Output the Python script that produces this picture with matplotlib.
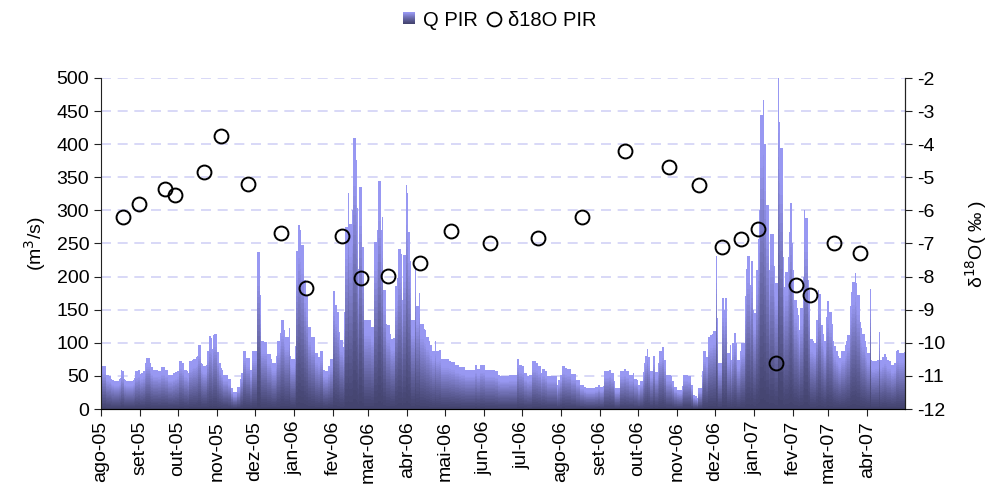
import numpy as np
import pandas as pd
import matplotlib
matplotlib.use('Agg')
import matplotlib.pyplot as plt
from matplotlib.patches import Rectangle
from matplotlib.legend_handler import HandlerBase
from matplotlib.lines import Line2D

plt.rcParams['font.family'] = ['Liberation Sans', 'DejaVu Sans']
plt.rcParams['axes.unicode_minus'] = False

# ---------------- data ----------------
month_labels = ['ago-05', 'set-05', 'out-05', 'nov-05', 'dez-05', 'jan-06', 'fev-06',
                'mar-06', 'abr-06', 'mai-06', 'jun-06', 'jul-06', 'ago-06', 'set-06',
                'out-06', 'nov-06', 'dez-06', 'jan-07', 'fev-07', 'mar-07', 'abr-07']

# daily discharge Q PIR (m3/s), one list per month
q_aug05 = [65,65,65,65,52,51,50,50,46,44,43,43,43,43,45,47,59,58,45,44,43,43,43,43,43,44,47,58,57,59,59]
q_sep05 = [53,55,58,58,70,77,77,77,70,63,59,59,59,59,58,58,58,63,63,63,59,59,52,52,52,51,54,54,56,58]
q_oct05 = [58,73,73,69,69,59,59,57,54,72,72,74,76,76,78,80,96,96,70,68,65,65,66,88,88,110,108,90,112,114,114]
q_nov05 = [86,86,69,62,59,51,51,51,51,45,45,31,31,25,25,25,33,33,45,55,55,88,88,77,77,77,59,59,88,88]
q_dec05 = [88,88,237,237,172,102,102,101,101,101,83,83,83,75,69,69,69,80,103,103,115,134,134,119,109,109,109,123,80,75,75]
q_jan06 = [75,95,238,278,278,270,248,248,195,195,170,124,124,124,109,109,109,84,84,79,79,88,88,59,59,58,58,65,65,75,75]
q_feb06 = [178,178,157,146,146,117,104,104,94,147,275,275,326,280,280,300,410,410,376,303,212,336,336,245,245,134,134,134]
q_mar06 = [135,135,124,124,124,253,253,270,345,345,270,290,180,180,128,127,127,114,106,106,107,186,186,198,242,242,234,165,233,233,338]
q_apr06 = [326,268,223,135,135,134,216,155,155,175,129,128,128,121,120,109,109,103,97,97,88,88,102,87,87,89,89,75,75,75]
q_may06 = [75,75,75,73,73,71,71,71,67,67,67,64,64,63,63,63,59,59,59,59,59,59,59,59,67,60,60,60,67,67,66]
q_jun06 = [66,59,59,59,59,59,59,59,59,57,57,51,51,50,50,50,50,50,50,50,51,51,51,51,51,51,75,75,67,67]
q_jul06 = [65,65,54,54,50,50,51,51,72,72,72,69,69,65,65,55,61,61,57,57,50,50,50,50,50,50,50,50,36,44,52]
q_aug06 = [52,65,65,62,62,61,61,61,53,53,53,53,44,44,44,36,36,36,33,33,31,31,31,31,31,31,31,33,33,37,37]
q_sep06 = [33,33,35,57,57,57,57,59,59,55,55,42,31,31,31,32,58,58,58,61,61,57,57,51,51,51,55,46,46,44]
q_oct06 = [36,36,43,43,56,69,80,90,79,79,57,57,80,80,56,56,69,87,87,93,93,74,51,51,51,51,50,43,43,33,33]
q_nov06 = [29,29,28,28,34,51,51,51,51,50,50,36,36,21,19,19,16,31,31,31,58,87,87,78,78,109,112,112,113,118]
q_dec06 = [118,231,137,69,69,69,167,150,167,167,84,84,97,74,100,115,115,99,74,74,87,99,100,100,170,212,231,231,187,224,150]
q_jan07 = [145,145,210,257,300,444,444,467,401,401,308,308,210,265,265,265,216,190,190,507,434,394,394,230,185,207,207,230,267,311,250]
q_feb07 = [210,165,165,152,142,119,152,152,200,301,288,288,195,180,105,105,102,100,135,135,180,174,127,127,114,102,139,163]
q_mar07 = [163,146,146,129,103,95,87,87,80,77,87,88,88,97,102,112,112,155,177,192,192,206,190,172,172,132,122,114,114,102,94]
q_apr07 = [84,84,182,74,72,72,73,73,74,117,74,74,78,83,83,79,74,73,73,66,67,70,70,87,89,85,84,84,85,86]

q_months = [q_aug05, q_sep05, q_oct05, q_nov05, q_dec05, q_jan06, q_feb06, q_mar06,
            q_apr06, q_may06, q_jun06, q_jul06, q_aug06, q_sep06, q_oct06, q_nov06,
            q_dec06, q_jan07, q_feb07, q_mar07, q_apr07]

# isotope samples
d18o_dates = ['2005-08-18', '2005-08-31', '2005-09-20', '2005-09-28', '2005-10-21',
              '2005-11-04', '2005-11-25', '2005-12-21', '2006-01-10', '2006-02-08',
              '2006-02-23', '2006-03-16', '2006-04-11', '2006-05-05', '2006-06-05',
              '2006-07-13', '2006-08-17', '2006-09-20', '2006-10-25', '2006-11-18',
              '2006-12-06', '2006-12-21', '2007-01-04', '2007-01-18', '2007-02-03',
              '2007-02-14', '2007-03-05', '2007-03-26']
d18o_vals = [-6.21, -5.81, -5.34, -5.54, -4.83, -3.75, -5.19, -6.67, -8.35, -6.76,
             -8.05, -7.99, -7.59, -6.61, -6.97, -6.82, -6.21, -4.21, -4.68, -5.24,
             -7.12, -6.87, -6.57, -10.60, -8.25, -8.57, -6.97, -7.28]

# ---------------- build positions ----------------
start = pd.Timestamp('2005-08-01')
month_starts = pd.date_range('2005-08-01', periods=len(month_labels) + 1, freq='MS')
ms_days = np.array([(m - start).days for m in month_starts])

xs, qs = [], []
for i, ql in enumerate(q_months):
    xs.extend(ms_days[i] + np.arange(len(ql)))
    qs.extend(ql)
xs = np.array(xs, dtype=float)
qs = np.array(qs, dtype=float)

xd = np.array([(pd.Timestamp(d) - start).days for d in d18o_dates]) + 0.5

# ---------------- figure ----------------
fig = plt.figure(figsize=(9.93, 4.94), dpi=100)
ax = fig.add_axes([101/993, 1 - 409/494, (905 - 101)/993, (409 - 78)/494])

light = np.array([152, 152, 242]) / 255.0
dark = np.array([66, 66, 108]) / 255.0

def grad_color(f):
    t = min(1.0, max(0.0, f / 0.85)) ** 1.15
    return tuple(dark + (light - dark) * t)

N = 28
for k in range(N):
    f = 1.0 - k / N
    c = grad_color(f - 0.5 / N)
    ax.bar(xs, qs * f, width=1.0, align='edge', color=c, linewidth=0,
           antialiased=False, zorder=2)

ax.set_xlim(0, ms_days[-1])
ax.set_ylim(0, 500)
ax.set_yticks(np.arange(0, 501, 50))
ax.set_xticks(ms_days[:-1])
ax.set_xticklabels(month_labels, rotation=90)
ax.yaxis.grid(True, color='#d2d2f6', linestyle=(0, (6, 4)), linewidth=1.2, zorder=0)
ax.set_axisbelow(True)
ax.spines['top'].set_visible(False)
for s in ['left', 'bottom', 'right']:
    ax.spines[s].set_color('#222222')
ax.tick_params(axis='both', labelsize=14, direction='out', length=5, color='#222222')
ax.set_ylabel('(m$^3$/s)', fontsize=14, labelpad=6)

ax2 = ax.twinx()
ax2.plot(xd, d18o_vals, 'o', mfc='none', mec='black', ms=10, mew=1.4, zorder=5,
         clip_on=False)
ax2.set_ylim(-12, -2)
ax2.set_yticks(np.arange(-12, -1, 1))
ax2.spines['top'].set_visible(False)
ax2.spines['left'].set_visible(False)
ax2.spines['right'].set_color('#222222')
ax2.tick_params(axis='y', labelsize=14, direction='out', length=5, color='#222222')
ax2.set_ylabel('δ$^{18}$O( ‰ )', fontsize=14, labelpad=13)


class GradHandler(HandlerBase):
    def create_artists(self, legend, orig_handle, xdescent, ydescent, width,
                       height, fontsize, trans):
        arts = []
        M = 12
        side = min(width, height * 1.1)
        x0 = -xdescent + (width - side) / 2
        y0 = -ydescent + (height - side) / 2
        for j in range(M):
            fj = (j + 0.5) / M
            arts.append(Rectangle((x0, y0 + side * j / M), side, side / M + 0.2,
                                  facecolor=grad_color(fj * 0.9), edgecolor='none',
                                  transform=trans))
        return arts


q_handle = Rectangle((0, 0), 1, 1)
o_handle = Line2D([], [], marker='o', ls='none', mfc='none', mec='black', ms=10, mew=1.3)
fig.legend([q_handle, o_handle], ['Q PIR', 'δ18O PIR'], loc='center',
           bbox_to_anchor=(500/993, 1 - 20/494), ncol=2, frameon=False, fontsize=14.5,
           handlelength=0.6, handleheight=0.6, handletextpad=0.4, columnspacing=0.5,
           handler_map={Rectangle: GradHandler()})

fig.savefig('out.png', dpi=100)
